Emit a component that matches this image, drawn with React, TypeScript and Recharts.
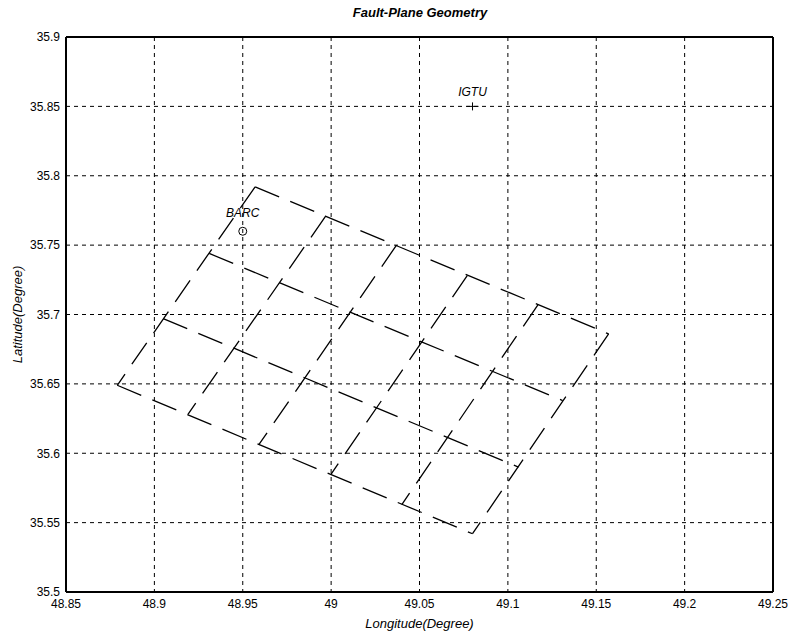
import React from "react";
import {
  ComposedChart,
  CartesianGrid,
  Line,
  Scatter,
  XAxis,
  YAxis,
} from "recharts";

// axes
const lonTicks = [48.85, 48.9, 48.95, 49, 49.05, 49.1, 49.15, 49.2, 49.25];
const latTicks = [35.5, 35.55, 35.6, 35.65, 35.7, 35.75, 35.8, 35.85, 35.9];

// fault-plane sub-fault outlines, [lon, lat] pairs
const strikeLines = [
  [[48.957, 35.792], [49.157, 35.686]],
  [[48.931, 35.744], [49.131, 35.638]],
  [[48.905, 35.697], [49.106, 35.59]],
  [[48.879, 35.649], [49.08, 35.542]],
];
const dipLines = [
  [[48.957, 35.792], [48.879, 35.649]],
  [[48.997, 35.771], [48.919, 35.628]],
  [[49.037, 35.75], [48.959, 35.606]],
  [[49.077, 35.728], [49.0, 35.585]],
  [[49.117, 35.707], [49.04, 35.563]],
  [[49.157, 35.686], [49.08, 35.542]],
];

// stations
const stationNames = ["BARC", "IGTU"];
const stationLon = [48.95, 49.08];
const stationLat = [35.76, 35.85];
const stationMarker = ["circle", "plus"];

const stations = stationNames.map((name, i) => ({
  name,
  lon: stationLon[i],
  lat: stationLat[i],
  marker: stationMarker[i],
}));

const segments = [...strikeLines, ...dipLines].map((seg) =>
  seg.map(([lon, lat]) => ({ lon, lat }))
);

const font = "'Liberation Sans', Arial, sans-serif";
const fmt = (v: number) => String(parseFloat(v.toFixed(2)));
const noTick = () => <g />;

function StationShape(props: any) {
  const { cx, cy, payload } = props;
  if (payload.marker === "circle") {
    return (
      <g>
        <circle cx={cx} cy={cy} r={4} fill="none" stroke="#000" strokeWidth={1} />
        <text x={cx} y={cy - 14} textAnchor="middle" fontFamily={font} fontSize={12} fontStyle="italic" fill="#000">
          {payload.name}
        </text>
      </g>
    );
  }
  return (
    <g>
      <line x1={cx - 6} y1={cy} x2={cx + 6} y2={cy} stroke="#000" strokeWidth={1} />
      <line x1={cx} y1={cy - 4} x2={cx} y2={cy + 4} stroke="#000" strokeWidth={1} />
      <text x={cx} y={cy - 10} textAnchor="middle" fontFamily={font} fontSize={12} fontStyle="italic" fill="#000">
        {payload.name}
      </text>
    </g>
  );
}

export default function App() {
  const tickStyle = { fill: "#000", fontSize: 12, fontFamily: font };
  const box = { stroke: "#000", strokeWidth: 2 };
  return (
    <div style={{ position: "absolute", left: 0, top: 0, width: 793, height: 632, background: "#fff" }}>
      <ComposedChart width={793} height={632} margin={{ top: 37, right: 20, left: 0, bottom: 0 }}>
        <CartesianGrid stroke="#000" strokeDasharray="4 4" strokeWidth={1} />
        <XAxis
          dataKey="lon"
          type="number"
          domain={[48.85, 49.25]}
          ticks={lonTicks}
          interval={0}
          allowDataOverflow
          height={40}
          tickFormatter={fmt}
          tick={tickStyle}
          tickLine={false}
          tickSize={4}
          tickMargin={3}
          axisLine={box}
          label={{
            value: "Longitude(Degree)",
            position: "insideBottom",
            offset: 4,
            style: { fontFamily: font, fontSize: 13, fontStyle: "italic", fill: "#000" },
          }}
        />
        <YAxis
          dataKey="lat"
          type="number"
          domain={[35.5, 35.9]}
          ticks={latTicks}
          interval={0}
          allowDataOverflow
          width={66}
          tickFormatter={fmt}
          tick={tickStyle}
          tickLine={false}
          tickSize={4}
          tickMargin={2}
          axisLine={box}
          label={{
            value: "Latitude(Degree)",
            angle: -90,
            position: "center",
            dx: -16,
            style: { fontFamily: font, fontSize: 13, fontStyle: "italic", fill: "#000" },
          }}
        />
        <XAxis xAxisId="top" orientation="top" type="number" dataKey="lon" domain={[48.85, 49.25]} ticks={lonTicks} interval={0} mirror tick={noTick} tickSize={5} tickLine={{ stroke: "#000" }} axisLine={box} />
        <XAxis xAxisId="bottomIn" orientation="bottom" type="number" dataKey="lon" domain={[48.85, 49.25]} ticks={lonTicks} interval={0} mirror tick={noTick} tickSize={5} tickLine={{ stroke: "#000" }} axisLine={false} />
        <YAxis yAxisId="right" orientation="right" type="number" dataKey="lat" domain={[35.5, 35.9]} ticks={latTicks} interval={0} mirror tick={noTick} tickSize={5} tickLine={{ stroke: "#000" }} axisLine={box} />
        <YAxis yAxisId="leftIn" orientation="left" type="number" dataKey="lat" domain={[35.5, 35.9]} ticks={latTicks} interval={0} mirror tick={noTick} tickSize={5} tickLine={{ stroke: "#000" }} axisLine={false} />
        {segments.map((seg, i) => (
          <Line
            key={i}
            data={seg}
            dataKey="lat"
            type="linear"
            stroke="#000"
            strokeWidth={1.3}
            strokeDasharray="26 12"
            dot={false}
            activeDot={false}
            legendType="none"
            isAnimationActive={false}
          />
        ))}
        <Scatter data={stations} dataKey="lat" shape={StationShape} isAnimationActive={false} />
      </ComposedChart>
      <div
        style={{
          position: "absolute",
          left: 270,
          top: 5,
          width: 300,
          textAlign: "center",
          fontFamily: font,
          fontSize: 13,
          lineHeight: "16px",
          fontWeight: "bold",
          fontStyle: "italic",
          color: "#000",
        }}
      >
        Fault-Plane Geometry
      </div>
    </div>
  );
}
